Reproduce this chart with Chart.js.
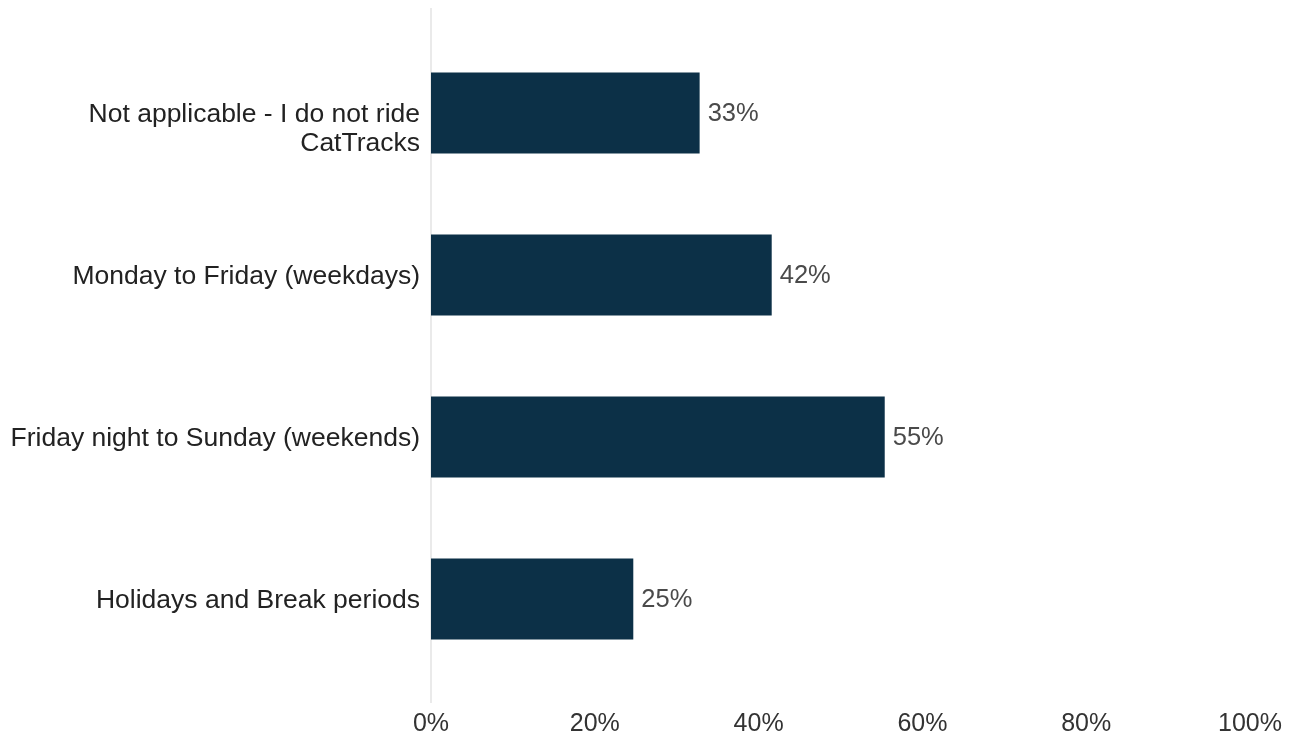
<!DOCTYPE html>
<html lang="en">
<head>
    <meta charset="UTF-8">
    <title>CatTracks riding periods</title>
    <script src="https://cdn.jsdelivr.net/npm/chart.js"></script>
    <style>
        html, body { margin: 0; padding: 0; background: #fff; }
        .chart { width: 1297px; height: 734px; }
    </style>
</head>
<body>
    <div class="chart">
        <canvas id="periodsChart"></canvas>
    </div>

    <script>
        // data
        const categories = [
            ['Not applicable - I do not ride', 'CatTracks'],
            'Monday to Friday (weekdays)',
            'Friday night to Sunday (weekends)',
            'Holidays and Break periods'
        ];
        const values = [32.8, 41.6, 55.4, 24.7];
        const valueLabels = ['33%', '42%', '55%', '25%'];
        const xTicks = [0, 20, 40, 60, 80, 100];

        // light line where the bars start, a bit taller than the plot area
        const zeroLine = {
            id: 'zeroLine',
            beforeDatasetsDraw(chart) {
                const ctx = chart.ctx;
                const x = chart.scales.x.getPixelForValue(0);
                ctx.save();
                ctx.strokeStyle = '#e3e3e3';
                ctx.lineWidth = 1.5;
                ctx.beginPath();
                ctx.moveTo(x, chart.chartArea.top - 24);
                ctx.lineTo(x, chart.chartArea.bottom + 23);
                ctx.stroke();
                ctx.restore();
            }
        };

        // percentage next to each bar
        const barLabels = {
            id: 'barLabels',
            afterDatasetsDraw(chart) {
                const ctx = chart.ctx;
                const meta = chart.getDatasetMeta(0);
                ctx.save();
                ctx.font = '25.5px "Liberation Sans", Arial, sans-serif';
                ctx.fillStyle = '#4a4a4a';
                ctx.textAlign = 'left';
                ctx.textBaseline = 'middle';
                meta.data.forEach((bar, i) => {
                    ctx.fillText(valueLabels[i], bar.x + 8, bar.y + 1);
                });
                ctx.restore();
            }
        };

        const ctx = document.getElementById('periodsChart').getContext('2d');
        new Chart(ctx, {
            type: 'bar',
            data: {
                labels: categories,
                datasets: [{
                    data: values,
                    backgroundColor: '#0c3047',
                    barPercentage: 0.5,
                    categoryPercentage: 1
                }]
            },
            options: {
                indexAxis: 'y',
                responsive: true,
                maintainAspectRatio: false,
                animation: false,
                layout: { padding: { top: 32, right: 47, bottom: 0, left: 0 } },
                plugins: {
                    legend: { display: false },
                    tooltip: { enabled: false }
                },
                scales: {
                    x: {
                        min: 0,
                        max: 100,
                        afterBuildTicks: s => { s.ticks = xTicks.map(v => ({ value: v })); },
                        afterFit: s => {
                            s.height = 54;
                            s.paddingLeft = 0;
                            s.paddingRight = 0;
                        },
                        grid: { display: false, drawTicks: false },
                        border: { display: false },
                        ticks: {
                            padding: 29,
                            color: '#333',
                            font: { family: '"Liberation Sans", Arial, sans-serif', size: 25 },
                            callback: v => v + '%'
                        }
                    },
                    y: {
                        afterFit: s => {
                            s.width = 431;
                            s.paddingTop = 0;
                            s.paddingBottom = 0;
                        },
                        grid: { display: false, drawTicks: false },
                        border: { display: false },
                        ticks: {
                            padding: 11,
                            labelOffset: 2,
                            color: '#222',
                            font: { family: '"Liberation Sans", Arial, sans-serif', size: 26.5, lineHeight: 1.1 },
                            // first line sits on the bar centre, the rest below
                            callback: function (v) {
                                const lab = this.getLabelForValue(v);
                                return Array.isArray(lab) ? [''].concat(lab) : lab;
                            }
                        }
                    }
                }
            },
            plugins: [zeroLine, barLabels]
        });
    </script>
</body>
</html>
